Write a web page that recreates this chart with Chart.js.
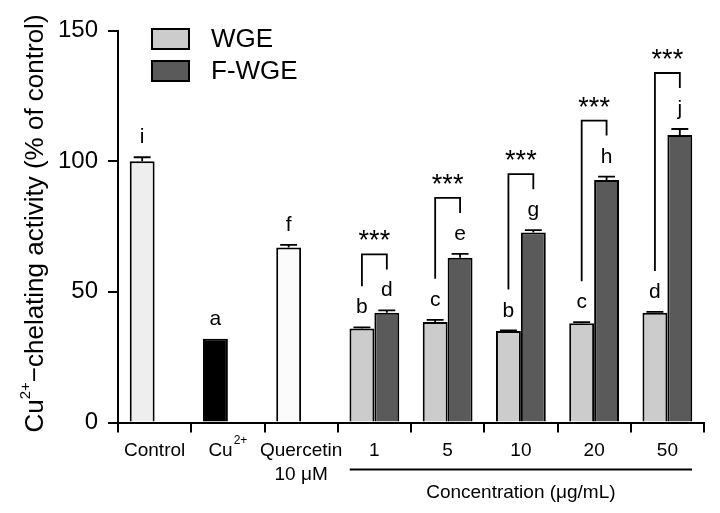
<!DOCTYPE html>
<html>
<head>
<meta charset="utf-8">
<script src="https://cdn.jsdelivr.net/npm/chart.js@4.4.1/dist/chart.umd.min.js"></script>
<style>
  body { margin: 0; background: #fff; }
</style>
</head>
<body>
<canvas id="chelation" width="720" height="513"></canvas>
<script>
// categories on the x axis ('^' marks a superscript)
const categories = ['Control', 'Cu^2+', 'Quercetin', '1', '5', '10', '20', '50'];
const subLabels = ['', '', '10 μM', '', '', '', '', ''];

// bar heights (% of control) and their SEM
const referenceValues = [100, 32, 67, null, null, null, null, null];
const referenceErrors = [1.5, 0, 1, null, null, null, null, null];
const wgeValues = [null, null, null, 36, 38.5, 35, 38, 42];
const wgeErrors = [null, null, null, 0.4, 0.8, 0.2, 0.4, 0.3];
const fwgeValues = [null, null, null, 42, 63, 72.7, 92.8, 110];
const fwgeErrors = [null, null, null, 0.9, 1.5, 0.9, 1.3, 2.3];

// significance letters and WGE vs F-WGE stars
const referenceLetters = ['i', 'a', 'f', '', '', '', '', ''];
const wgeLetters = ['', '', '', 'b', 'c', 'b', 'c', 'd'];
const fwgeLetters = ['', '', '', 'd', 'e', 'g', 'h', 'j'];
const significance = ['', '', '', '***', '***', '***', '***', '***'];

const yTicks = [0, 50, 100, 150];

const FONT = '"Liberation Sans", Arial, sans-serif';
const referenceColors = ['#eeeeee', '#000000', '#fbfbfb', '#fff', '#fff', '#fff', '#fff', '#fff'];
const wgeColor = '#cccccc';
const fwgeColor = '#5a5a5a';

// draws "base^sup" text centred on x
function richText(ctx, text, x, y, size) {
  const parts = text.split('^');
  const base = parts[0], sup = parts[1];
  const supSize = Math.round(size * 0.62);
  ctx.font = size + 'px ' + FONT;
  const wb = ctx.measureText(base).width;
  let ws = 0;
  if (sup) {
    ctx.font = supSize + 'px ' + FONT;
    ws = ctx.measureText(sup).width + 1;
  }
  const x0 = x - (wb + ws) / 2;
  ctx.textAlign = 'left';
  ctx.font = size + 'px ' + FONT;
  ctx.fillText(base, x0, y);
  if (sup) {
    ctx.font = supSize + 'px ' + FONT;
    ctx.fillText(sup, x0 + wb + 1, y - size * 0.5);
  }
}

const annotations = {
  id: 'annotations',
  afterDatasetsDraw(chart) {
    const ctx = chart.ctx;
    const y = chart.scales.y;
    ctx.save();
    ctx.strokeStyle = '#000';
    ctx.fillStyle = '#000';
    ctx.lineWidth = 1.8;
    ctx.textBaseline = 'alphabetic';
    ctx.textAlign = 'center';

    const sets = [
      [referenceValues, referenceErrors, referenceLetters],
      [wgeValues, wgeErrors, wgeLetters],
      [fwgeValues, fwgeErrors, fwgeLetters],
    ];
    const tops = [[], [], []];
    sets.forEach(([vals, errs, letters], d) => {
      const meta = chart.getDatasetMeta(d);
      vals.forEach((v, i) => {
        if (v === null) return;
        const el = meta.data[i];
        const half = el.width * 0.34;
        const top = y.getPixelForValue(v + errs[i]);
        tops[d][i] = top;
        if (errs[i] > 0) {
          ctx.beginPath();
          ctx.moveTo(el.x, el.y);
          ctx.lineTo(el.x, top);
          ctx.moveTo(el.x - half, top);
          ctx.lineTo(el.x + half, top);
          ctx.stroke();
        }
        ctx.font = '21px ' + FONT;
        ctx.fillText(letters[i], el.x, top - 14);
      });
    });

    // brackets with stars
    significance.forEach((s, i) => {
      if (!s) return;
      const w = chart.getDatasetMeta(1).data[i];
      const f = chart.getDatasetMeta(2).data[i];
      const rightBottom = tops[2][i] - 41;
      const top = rightBottom - 15;
      const leftBottom = tops[1][i] - 41;
      ctx.beginPath();
      ctx.moveTo(w.x, leftBottom);
      ctx.lineTo(w.x, top);
      ctx.lineTo(f.x, top);
      ctx.lineTo(f.x, rightBottom);
      ctx.stroke();
      ctx.font = '27px ' + FONT;
      ctx.fillText(s, (w.x + f.x) / 2, top - 5);
    });
    ctx.restore();
  },
  afterDraw(chart) {
    const ctx = chart.ctx;
    const x = chart.scales.x;
    const area = chart.chartArea;
    ctx.save();
    ctx.fillStyle = '#000';
    ctx.strokeStyle = '#000';
    ctx.textBaseline = 'middle';

    // category labels
    categories.forEach((c, i) => {
      const px = x.getPixelForValue(i);
      richText(ctx, c, px, area.bottom + 28, 19);
      if (subLabels[i]) richText(ctx, subLabels[i], px, area.bottom + 52, 19);
    });

    // concentration group line and label
    const step = x.getPixelForValue(1) - x.getPixelForValue(0);
    const gx0 = x.getPixelForValue(3) - step / 2 + 12;
    const gx1 = x.getPixelForValue(categories.length - 1) + step / 2 - 12;
    ctx.lineWidth = 2;
    ctx.beginPath();
    ctx.moveTo(gx0, area.bottom + 47);
    ctx.lineTo(gx1, area.bottom + 47);
    ctx.stroke();
    richText(ctx, 'Concentration (μg/mL)', (gx0 + gx1) / 2, area.bottom + 70, 19);

    // y axis title, rotated
    ctx.save();
    ctx.translate(43, (area.top + area.bottom) / 2 - 3);
    ctx.rotate(-Math.PI / 2);
    ctx.textBaseline = 'alphabetic';
    const size = 26, supSize = 15;
    const pieces = [['Cu', size, 0], ['2+', supSize, -13], ['−chelating activity (% of control)', size, 0]];
    let total = 0;
    pieces.forEach(p => { ctx.font = p[1] + 'px ' + FONT; total += ctx.measureText(p[0]).width; });
    let cx = -total / 2;
    ctx.textAlign = 'left';
    pieces.forEach(p => {
      ctx.font = p[1] + 'px ' + FONT;
      ctx.fillText(p[0], cx, p[2]);
      cx += ctx.measureText(p[0]).width;
    });
    ctx.restore();

    // legend inside the plot
    const legend = [['WGE', wgeColor], ['F-WGE', fwgeColor]];
    ctx.lineWidth = 2;
    legend.forEach(([name, color], k) => {
      const ly = 29 + k * 32;
      ctx.fillStyle = color;
      ctx.fillRect(152, ly, 37, 20);
      ctx.strokeRect(152, ly, 37, 20);
      ctx.fillStyle = '#000';
      ctx.font = '26px ' + FONT;
      ctx.textAlign = 'left';
      ctx.fillText(name, 211, ly + 11);
    });
    ctx.restore();
  }
};

new Chart(document.getElementById('chelation'), {
  type: 'bar',
  data: {
    labels: categories,
    datasets: [
      { label: 'Reference', data: referenceValues, backgroundColor: referenceColors, stack: 'left' },
      { label: 'WGE', data: wgeValues, backgroundColor: wgeColor, stack: 'left' },
      { label: 'F-WGE', data: fwgeValues, backgroundColor: fwgeColor, stack: 'right' },
    ],
  },
  options: {
    responsive: false,
    animation: false,
    layout: { padding: { top: 30.5, right: 16, left: 0, bottom: 0 } },
    datasets: {
      bar: {
        borderColor: '#000',
        borderWidth: 2,
        categoryPercentage: 0.68,
        barPercentage: 1,
      },
    },
    plugins: {
      legend: { display: false },
      tooltip: { enabled: false },
    },
    scales: {
      x: {
        stacked: true,
        grid: { drawOnChartArea: false, drawTicks: true, tickLength: 10, color: '#000', lineWidth: 2, offset: true },
        border: { display: true, color: '#000', width: 2 },
        ticks: { display: false },
        afterFit(scale) { scale.height = 90.5; },
      },
      y: {
        stacked: true,
        min: 0,
        max: 150,
        afterBuildTicks(scale) { scale.ticks = yTicks.map(v => ({ value: v })); },
        grid: { drawOnChartArea: false, drawTicks: true, tickLength: 10, color: '#000', lineWidth: 2 },
        border: { display: true, color: '#000', width: 2 },
        ticks: { color: '#000', padding: 10, font: { family: FONT, size: 24 } },
        afterFit(scale) { scale.width = 118; },
      },
    },
  },
  plugins: [annotations],
});
</script>
</body>
</html>
